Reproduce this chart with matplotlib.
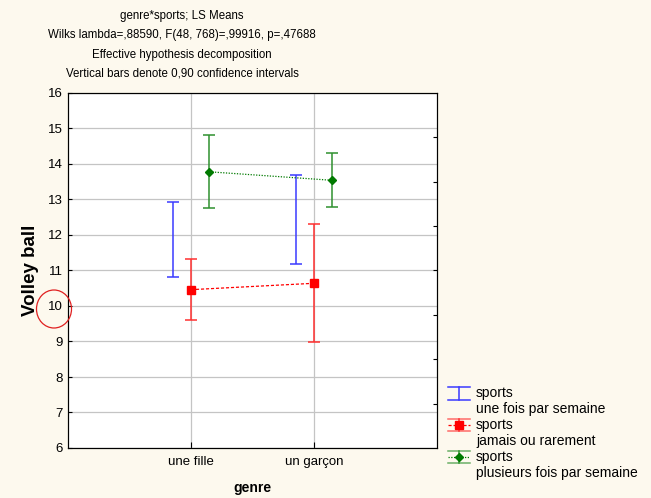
import numpy as np
import matplotlib.pyplot as plt
from matplotlib.lines import Line2D
from matplotlib.patches import Ellipse

plt.rcParams['font.family'] = ['Liberation Sans', 'DejaVu Sans']

genre = ['une fille', 'un garçon']

# sports: une fois par semaine (only CI shown)
once_lo = [10.81, 11.17]
once_hi = [12.92, 13.68]

# sports: jamais ou rarement
never_mean = [10.46, 10.64]
never_lo = [9.61, 8.98]
never_hi = [11.31, 12.30]

# sports: plusieurs fois par semaine
often_mean = [13.78, 13.54]
often_lo = [12.76, 12.78]
often_hi = [14.81, 14.30]

titles = ["genre*sports; LS Means",
          "Wilks lambda=,88590, F(48, 768)=,99916, p=,47688",
          "Effective hypothesis decomposition",
          "Vertical bars denote 0,90 confidence intervals"]

legend_labels = [("sports", "une fois par semaine"),
                 ("sports", "jamais ou rarement"),
                 ("sports", "plusieurs fois par semaine")]

bg = '#fdf9ee'
W, H = 651, 498
fig = plt.figure(figsize=(W/100, H/100), dpi=100, facecolor=bg)
ax = fig.add_axes([68/W, 1-448/H, 369/W, 355/H])

x = np.arange(1, len(genre) + 1)
off = 0.15

blue, red, green = '#3a3aff', '#ff0000', '#007a00'
red_bar, green_bar = '#ff3030', '#2f912f'

# blue: CI only, no marker
once_mid = (np.array(once_lo) + np.array(once_hi)) / 2
once_err = (np.array(once_hi) - np.array(once_lo)) / 2
ax.errorbar(x - off, once_mid, yerr=once_err, fmt='none', ecolor=blue,
            elinewidth=1.1, capsize=4.5, capthick=1.1)

ax.errorbar(x, never_mean,
            yerr=[np.array(never_mean) - never_lo, np.array(never_hi) - never_mean],
            fmt='s', color=red, ms=5.5, ls=(0, (2.5, 1.5)), lw=0.9,
            ecolor=red_bar, elinewidth=1.1, capsize=4.5, capthick=1.1)

ax.errorbar(x + off, often_mean,
            yerr=[np.array(often_mean) - often_lo, np.array(often_hi) - often_mean],
            fmt='D', color=green, ms=4.5, ls=(0, (1, 1.2)), lw=0.9,
            ecolor=green_bar, elinewidth=1.1, capsize=4.5, capthick=1.1)

ax.set_xlim(0, 3)
ax.set_ylim(6, 16)
ax.set_xticks(x)
ax.set_xticklabels(genre, fontsize=9.5)
ax.set_yticks(np.arange(6, 17))
ax.tick_params(axis='y', labelsize=9.5, direction='in', length=3)
ax.tick_params(axis='x', direction='in', length=4, pad=6)
ax.grid(True, color='#c4c4c4', lw=0.9)
ax.set_axisbelow(True)
ax.set_ylabel('Volley ball', fontsize=13.5, fontweight='bold', labelpad=7)
ax.set_xlabel('genre', fontsize=10, fontweight='bold', labelpad=9)

ax2 = ax.twinx()
ax2.set_ylim(6, 16)
ax2.set_yticks([7.25, 8.5, 9.75, 11, 12.25, 13.5, 14.75])
ax2.set_yticklabels([])
ax2.tick_params(axis='y', direction='in', length=3)

for i, t in enumerate(titles):
    fig.text(182/W, 1-(16 + 19.3*i)/H, t, ha='center', va='center', fontsize=8.3)


# hand-drawn legend, pixel positions converted to figure fractions
def fx(px):
    return px / W


def fy(py):
    return 1 - py / H


hx0, hx1, hxc = 448, 470, 459
rows = [393, 425, 457]
styles = [(blue, blue, None, None, None),
          (red_bar, red, 's', (0, (2.5, 1.5)), 5.5),
          (green_bar, green, 'D', (0, (1, 1.2)), 4.5)]
for yc, (bar_c, mk_c, mk, ls, ms), (l1, l2) in zip(rows, styles, legend_labels):
    if mk is None:
        fig.add_artist(Line2D([fx(hxc), fx(hxc)], [fy(yc-6.5), fy(yc+6.5)], color=bar_c, lw=1.1))
        for yy in (yc-6.5, yc+6.5):
            fig.add_artist(Line2D([fx(hx0), fx(hx1)], [fy(yy), fy(yy)], color=bar_c, lw=1.1))
    else:
        for yy in (yc-6, yc+6):
            fig.add_artist(Line2D([fx(hx0), fx(hx1)], [fy(yy), fy(yy)], color=bar_c, lw=1.1, alpha=0.7))
        fig.add_artist(Line2D([fx(hxc), fx(hxc)], [fy(yc-6), fy(yc+6)], color=bar_c, lw=1.1))
        fig.add_artist(Line2D([fx(hx0), fx(hx1)], [fy(yc), fy(yc)], color=mk_c, lw=0.9, ls=ls))
        fig.add_artist(Line2D([fx(hxc)], [fy(yc)], color=mk_c, marker=mk, ms=ms, ls='none'))
    fig.text(fx(476), fy(yc), l1, ha='left', va='center', fontsize=10)
    fig.text(fx(476), fy(yc+16), l2, ha='left', va='center', fontsize=10)

fig.add_artist(Ellipse((54/W, 1-309/H), width=35/W, height=38/H,
                       transform=fig.transFigure, fill=False, ec='#e02020', lw=0.9))

fig.savefig('out.png', dpi=100, facecolor=bg)
